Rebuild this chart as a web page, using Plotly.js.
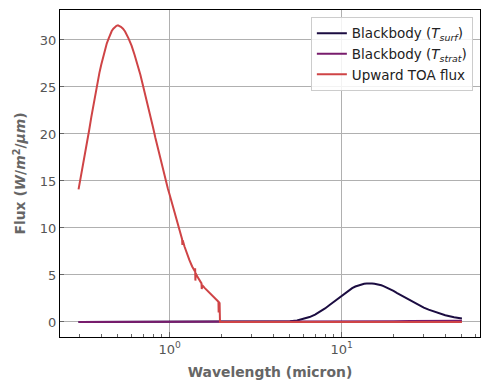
<!DOCTYPE html>
<html>
<head>
<meta charset="utf-8">
<script src="https://cdn.plot.ly/plotly-3.0.1.min.js"></script>
<style>html,body{margin:0;padding:0;background:#fff;}#chart{width:490px;height:390px;}</style>
</head>
<body>
<div id="chart"></div>
<script>
// Blackbody at surface temperature
const wlSurf = [0.295, 1, 2, 3, 3.5, 4, 4.5, 5, 5.5, 6, 6.5, 7, 7.5, 8, 8.5, 9, 9.5, 10, 10.5, 11, 11.5, 12, 12.5, 13, 13.5, 14, 14.5, 15, 15.5, 16, 16.5, 17, 17.5, 18, 19, 20, 21, 22, 23, 24, 25, 26, 27, 28, 30, 32, 35, 37, 40, 45, 50];
const fluxSurf = [0, 0, 0, 0, 0.001, 0.006, 0.025, 0.07, 0.16, 0.31, 0.52, 0.79, 1.1, 1.44, 1.8, 2.15, 2.47, 2.78, 3.08, 3.37, 3.6, 3.77, 3.9, 4.0, 4.07, 4.1, 4.12, 4.1, 4.07, 4.03, 3.97, 3.9, 3.82, 3.72, 3.51, 3.3, 3.07, 2.87, 2.66, 2.46, 2.28, 2.11, 1.94, 1.8, 1.53, 1.31, 1.04, 0.9, 0.72, 0.51, 0.37];

// Blackbody at stratosphere temperature
const wlStrat = [0.295, 2, 5, 8, 10, 12, 15, 18, 20, 25, 30, 35, 40, 45, 50];
const fluxStrat = [0, 0, 0, 0, 0.005, 0.02, 0.04, 0.06, 0.08, 0.1, 0.11, 0.12, 0.12, 0.12, 0.12];

// Upward TOA flux
const wlToa = [0.295, 0.30, 0.305, 0.31, 0.315, 0.32, 0.33, 0.34, 0.35, 0.36, 0.37, 0.38, 0.39, 0.40, 0.41, 0.42, 0.43, 0.44, 0.45, 0.46, 0.47, 0.48, 0.49, 0.50, 0.51, 0.52, 0.535, 0.55, 0.575, 0.60, 0.625, 0.65, 0.675, 0.70, 0.725, 0.75, 0.775, 0.80, 0.825, 0.85, 0.875, 0.90, 0.925, 0.95, 0.975, 1.00, 1.025, 1.05, 1.075, 1.10, 1.125, 1.15, 1.175, 1.18, 1.185, 1.19, 1.22, 1.25, 1.30, 1.35, 1.40, 1.405, 1.41, 1.415, 1.45, 1.50, 1.53, 1.535, 1.545, 1.60, 1.65, 1.70, 1.75, 1.80, 1.85, 1.88, 1.92, 1.925, 1.93, 1.95, 1.955, 1.96, 2.0, 5, 10, 20, 50];
const fluxToa = [14.1, 14.8, 15.5, 16.2, 16.9, 17.6, 19.0, 20.4, 21.8, 23.1, 24.3, 25.4, 26.5, 27.4, 28.2, 28.9, 29.6, 30.1, 30.6, 30.95, 31.2, 31.4, 31.5, 31.55, 31.5, 31.4, 31.2, 30.9, 30.2, 29.4, 28.4, 27.4, 26.3, 25.1, 24.0, 22.9, 21.8, 20.7, 19.6, 18.6, 17.6, 16.7, 15.8, 15.0, 14.2, 13.5, 12.8, 12.1, 11.4, 10.8, 10.2, 9.6, 9.0, 8.8, 8.2, 8.7, 8.0, 7.4, 6.6, 5.9, 5.4, 5.7, 4.4, 5.2, 4.8, 4.4, 4.1, 3.5, 3.9, 3.6, 3.35, 3.1, 2.87, 2.65, 2.45, 2.3, 2.15, 1.0, 2.1, 2.0, 0.8, 0, 0, 0, 0, 0, 0];

const xTickVals = [1, 10];
const xTickText = ['10<sup>0</sup>', '10<sup>1</sup>'];
const xMinorVals = [0.3, 0.4, 0.5, 0.6, 0.7, 0.8, 0.9, 2, 3, 4, 5, 6, 7, 8, 9, 20, 30, 40, 50, 60];
const yTickVals = [0, 5, 10, 15, 20, 25, 30];

const FONT = 'DejaVu Sans, Liberation Sans, sans-serif';

const traces = [
  {x: wlSurf, y: fluxSurf, type: 'scatter', mode: 'lines', name: 'Blackbody (<i>T</i><sub><i>surf</i></sub>)', line: {color: '#1b0c41', width: 2}},
  {x: wlStrat, y: fluxStrat, type: 'scatter', mode: 'lines', name: 'Blackbody (<i>T</i><sub><i>strat</i></sub>)', line: {color: '#781c6d', width: 2}},
  {x: wlToa, y: fluxToa, type: 'scatter', mode: 'lines', name: 'Upward TOA flux', line: {color: '#cf4446', width: 2}}
];

const layout = {
  width: 490, height: 390,
  margin: {l: 60, r: 10, t: 10, b: 53},
  paper_bgcolor: '#fff', plot_bgcolor: '#fff',
  font: {family: FONT, color: '#555'},
  showlegend: true,
  legend: {
    x: 0.983, y: 0.979, xanchor: 'right', yanchor: 'top',
    bgcolor: 'rgba(255,255,255,0.85)', bordercolor: '#cccccc', borderwidth: 1,
    font: {family: FONT, size: 13.5, color: '#222'},
    itemwidth: 30, tracegroupgap: 0
  },
  xaxis: {
    type: 'log', range: [-0.638, 1.804],
    tickvals: xTickVals, ticktext: xTickText,
    ticks: 'inside', ticklen: 5, tickcolor: '#666', tickwidth: 1,
    minor: {tickvals: xMinorVals, ticks: 'inside', ticklen: 3, tickcolor: '#666', showgrid: false},
    showgrid: true, gridcolor: '#b0b0b0', gridwidth: 1,
    showline: true, linecolor: '#000', linewidth: 1, mirror: true,
    zeroline: false,
    tickfont: {family: FONT, size: 13, color: '#555'},
    title: {text: '<b>Wavelength (micron)</b>', font: {family: FONT, size: 13.9, color: '#666'}, standoff: 11}
  },
  yaxis: {
    range: [-1.6, 33.19],
    tickvals: yTickVals,
    ticks: 'inside', ticklen: 4, tickcolor: '#666', tickwidth: 1,
    showgrid: true, gridcolor: '#b0b0b0', gridwidth: 1,
    showline: true, linecolor: '#000', linewidth: 1, mirror: true,
    zeroline: false,
    tickfont: {family: FONT, size: 13, color: '#555'},
    title: {text: '<b>Flux (<i>W</i>/<i>m</i><sup>2</sup>/<i>μm</i>)</b>', font: {family: FONT, size: 13.9, color: '#666'}, standoff: 10}
  }
};

Plotly.newPlot('chart', traces, layout, {displayModeBar: false, staticPlot: true});
</script>
</body>
</html>
